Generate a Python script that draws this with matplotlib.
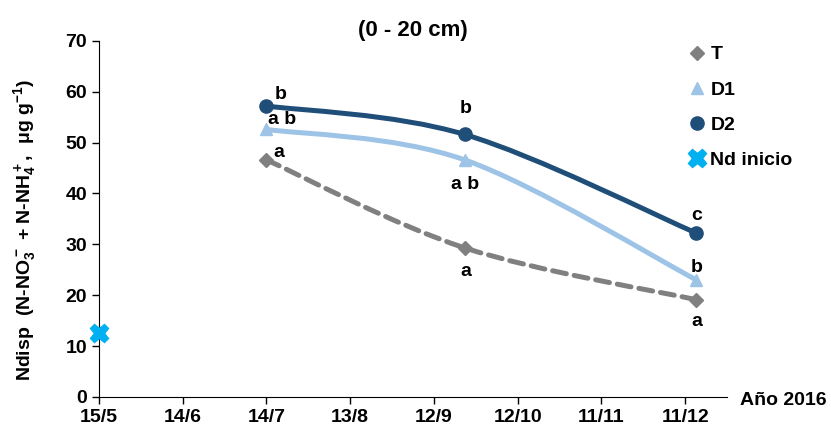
import datetime as dt
import matplotlib
matplotlib.use("Agg")
import matplotlib.pyplot as plt
import matplotlib.dates as mdates
from matplotlib.path import Path
from matplotlib.patches import PathPatch
from matplotlib.lines import Line2D

plt.rcParams['font.family'] = ['Liberation Sans', 'DejaVu Sans']
plt.rcParams['font.weight'] = 'bold'
plt.rcParams['mathtext.fontset'] = 'custom'
plt.rcParams['mathtext.rm'] = 'Liberation Sans:bold'
plt.rcParams['mathtext.bf'] = 'Liberation Sans:bold'
plt.rcParams['mathtext.default'] = 'bf'

# data
fechas = [dt.date(2016, 7, 14), dt.date(2016, 9, 23), dt.date(2016, 12, 15)]
T = [46.6, 29.3, 19.1]
D1 = [52.6, 46.6, 23.0]
D2 = [57.2, 51.6, 32.2]
fecha_inicio = [dt.date(2016, 5, 15)]
nd_inicio = [12.6]

letras_T = ["a", "a", "a"]
letras_D1 = ["a b", "a b", "b"]
letras_D2 = ["b", "b", "c"]

tick_fechas = [dt.date(2016, 5, 15) + dt.timedelta(days=30 * k) for k in range(8)]
tick_labels = ["15/5", "14/6", "14/7", "13/8", "12/9", "12/10", "11/11", "11/12"]

c_T = "#808080"
c_D1 = "#9DC3E6"
c_D2 = "#1F4E79"
c_ini = "#00B0F0"


def smooth_path(xs, ys):
    # excel-like smoothed line: bezier segments with catmull-rom tangents
    pts = list(zip(xs, ys))
    n = len(pts)
    verts = [pts[0]]
    codes = [Path.MOVETO]
    for i in range(n - 1):
        p0 = pts[max(i - 1, 0)]
        p1 = pts[i]
        p2 = pts[i + 1]
        p3 = pts[min(i + 2, n - 1)]
        c1 = (p1[0] + (p2[0] - p0[0]) / 6, p1[1] + (p2[1] - p0[1]) / 6)
        c2 = (p2[0] - (p3[0] - p1[0]) / 6, p2[1] - (p3[1] - p1[1]) / 6)
        verts += [c1, c2, p2]
        codes += [Path.CURVE4] * 3
    return Path(verts, codes)


fig = plt.figure(figsize=(8.31, 4.30), dpi=100)
ax = fig.add_axes([0.119, 0.077, 0.756, 0.828])

x = mdates.date2num(fechas)

ax.add_patch(PathPatch(smooth_path(x, T), fill=False, edgecolor=c_T, lw=3.6,
                       linestyle=(0, (2.8, 1.6)), capstyle='round', zorder=2))
ax.add_patch(PathPatch(smooth_path(x, D1), fill=False, edgecolor=c_D1, lw=3.6, zorder=3))
ax.add_patch(PathPatch(smooth_path(x, D2), fill=False, edgecolor=c_D2, lw=3.6, zorder=4))

ax.plot(x, T, linestyle='none', marker='D', ms=7, color=c_T, zorder=5)
ax.plot(x, D1, linestyle='none', marker='^', ms=9, color=c_D1, zorder=5)
ax.plot(x, D2, linestyle='none', marker='o', ms=9.5, color=c_D2, zorder=6)
ax.plot(mdates.date2num(fecha_inicio), nd_inicio, linestyle='none', marker='X',
        ms=13, color=c_ini, markeredgecolor=c_ini, clip_on=False, zorder=6)

# letters of significance
off_T = [(9, 5), (1, -17), (0, -16)]
off_D1 = [(11.5, 7), (0, -18), (0, 9)]
off_D2 = [(10, 8), (1, 19), (0, 13)]
for vals, letras, offs in [(T, letras_T, off_T), (D1, letras_D1, off_D1), (D2, letras_D2, off_D2)]:
    for xi, yi, s, o in zip(x, vals, letras, offs):
        ax.annotate(s, (xi, yi), xytext=o, textcoords='offset points',
                    ha='center', va='center', fontsize=14, fontweight='bold')

ax.set_xlim(mdates.date2num(dt.date(2016, 5, 15)), mdates.date2num(dt.date(2016, 12, 26)))
ax.set_ylim(0, 70)
ax.set_xticks(mdates.date2num(tick_fechas))
ax.set_xticklabels(tick_labels)
ax.set_yticks(range(0, 71, 10))
ax.tick_params(labelsize=14, length=5, width=1, direction='out')
for lab in ax.get_xticklabels() + ax.get_yticklabels():
    lab.set_fontweight('bold')
ax.spines['top'].set_visible(False)
ax.spines['right'].set_visible(False)

ax.set_title("(0 - 20 cm)", fontsize=16, fontweight='bold', pad=2)
ax.set_ylabel(r"Ndisp  (N-NO$_3^-$ + N-NH$_4^+$,  μg g$^{-1}$)", fontsize=14,
              fontweight='bold')
ax.yaxis.set_label_coords(-0.097, 0.47)
ax.text(1.02, -0.01, "Año 2016", transform=ax.transAxes, fontsize=14,
        fontweight='bold', ha='left', va='center')

handles = [
    Line2D([], [], linestyle='none', marker='D', ms=7, color=c_T),
    Line2D([], [], linestyle='none', marker='^', ms=9, color=c_D1),
    Line2D([], [], linestyle='none', marker='o', ms=9.5, color=c_D2),
    Line2D([], [], linestyle='none', marker='X', ms=13, color=c_ini),
]
leg = fig.legend(handles, ["T", "D1", "D2", "Nd inicio"], loc='upper left',
                 bbox_to_anchor=(0.808, 0.934), frameon=False, fontsize=14,
                 handlelength=0.8, handletextpad=0.3, labelspacing=0.9)
for t in leg.get_texts():
    t.set_fontweight('bold')

plt.savefig('out.png', dpi=100)
